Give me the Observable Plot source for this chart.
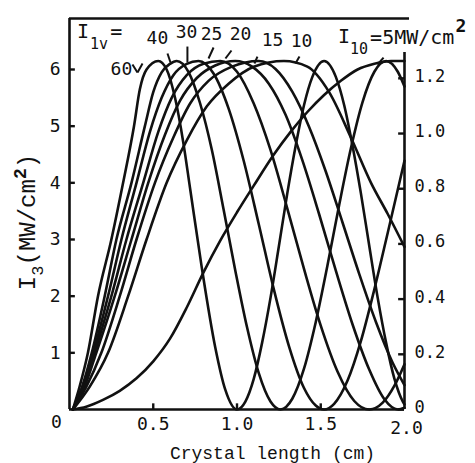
<!DOCTYPE html>
<html>
<head>
<meta charset="utf-8">
<script src="https://cdn.jsdelivr.net/npm/d3@7"></script>
<script src="https://cdn.jsdelivr.net/npm/@observablehq/plot@0.6"></script>
<style>
  html, body { margin: 0; padding: 0; background: #fff; }
  svg { display: block; }
</style>
</head>
<body>
<div id="chart"></div>
<script>
// ---- Data: crystal length (cm) and I3 (MW/cm^2) per pump intensity I1v ----
const seriesNames = ["60", "40", "30", "25", "20", "15", "10", "5"];

const len60 = [0.02,0.06,0.11,0.17,0.25,0.32,0.385,0.42,0.46,0.53,0.58,0.63,0.68,0.72,0.79,0.87,0.93,1.0,1.05,1.10,1.15,1.20,1.25,1.30,1.35,1.40,1.45,1.52,1.59,1.64,1.69,1.74,1.79,1.84,1.89,1.94,1.99,2.0];
const i60   = [0,0.4,1.0,2.0,3.0,4.0,5.0,5.65,6.0,6.15,6.0,5.5,4.7,3.9,2.5,1.1,0.35,0,0.14,0.54,1.18,1.97,2.88,3.81,4.65,5.37,5.87,6.15,5.87,5.37,4.65,3.81,2.88,1.97,1.18,0.54,0.14,0.09];

const len40 = [0.02,0.075,0.133,0.21,0.28,0.37,0.45,0.50,0.55,0.60,0.64,0.71,0.78,0.85,0.92,0.99,1.06,1.13,1.20,1.26,1.33,1.40,1.47,1.54,1.61,1.68,1.75,1.82,1.89,1.96,2.0];
const i40   = [0,0.4,1.0,2.0,3.0,4.0,5.0,5.6,5.95,6.1,6.15,5.96,5.4,4.58,3.53,2.45,1.45,0.64,0.14,0,0.19,0.72,1.54,2.54,3.61,4.61,5.43,5.96,6.15,5.96,5.7];

const len30 = [0.02,0.08,0.142,0.23,0.31,0.40,0.48,0.55,0.62,0.70,0.77,0.86,0.95,1.04,1.13,1.22,1.31,1.40,1.47,1.52,1.58,1.66,1.74,1.82,1.90,2.0];
const i30   = [0,0.4,1.0,2.0,3.0,4.0,4.9,5.5,5.9,6.1,6.15,5.93,5.31,4.39,3.27,2.12,1.12,0.38,0.07,0,0.1,0.51,1.21,2.12,3.12,4.39];

const len25 = [0.02,0.085,0.15,0.25,0.34,0.44,0.53,0.61,0.70,0.80,0.90,1.0,1.10,1.20,1.30,1.40,1.50,1.60,1.70,1.79,1.87,1.94,2.0];
const i25   = [0,0.4,1.0,2.0,3.0,4.0,4.9,5.5,5.9,6.1,6.15,5.96,5.4,4.58,3.55,2.48,1.48,0.67,0.15,0,0.12,0.42,0.8];

const len20 = [0.02,0.09,0.16,0.27,0.37,0.47,0.57,0.66,0.76,0.87,0.99,1.09,1.19,1.29,1.39,1.49,1.59,1.69,1.79,1.88,1.96,2.0];
const i20   = [0,0.4,1.0,2.0,3.0,4.0,4.85,5.45,5.85,6.07,6.15,6.05,5.75,5.2,4.4,3.45,2.45,1.5,0.7,0.18,0,0.03];

const len15 = [0.02,0.10,0.19,0.30,0.40,0.51,0.62,0.72,0.83,0.97,1.13,1.23,1.33,1.43,1.53,1.63,1.73,1.83,1.93,2.0];
const i15   = [0,0.4,1.0,2.0,3.0,4.0,4.8,5.4,5.8,6.05,6.15,6.01,5.61,4.99,4.2,3.3,2.39,1.54,0.82,0.43];

const len10 = [0.02,0.12,0.23,0.35,0.46,0.58,0.70,0.82,0.95,1.10,1.28,1.42,1.55,1.68,1.80,1.90,2.0];
const i10   = [0,0.4,1.0,2.0,3.0,4.0,4.75,5.35,5.75,6.05,6.15,6.05,5.6,4.8,4.0,3.45,2.87];

const len5  = [0.02,0.1,0.2,0.3,0.4,0.5,0.6,0.7,0.8,0.9,1.0,1.1,1.22,1.32,1.42,1.52,1.62,1.72,1.82,1.92,2.0];
const i5    = [0,0.05,0.17,0.33,0.55,0.85,1.25,1.8,2.42,2.98,3.48,3.95,4.5,4.9,5.25,5.55,5.8,6.0,6.1,6.15,6.15];

// ---- Axes ----
const leftTicks = [1, 2, 3, 4, 5, 6];
const xTicks = [0.5, 1.0, 1.5];
const xTickLabels = ["0.5", "1.0", "1.5"];
const xEndTick = 2.0;
const xEndLabel = "2.0";
const rightTicks = [0, 0.2, 0.4, 0.6, 0.8, 1.0, 1.2];
const rightTickLabels = ["0", "0.2", "0.4", "0.6", "0.8", "1.0", "1.2"];
const rightUnit = 4.87; // MW/cm^2 per unit of the right-hand axis

// ---- Annotations (data coordinates) ----
const curveLabels = [
  {t: "60", x: 0.310, y: 6.01},
  {t: "40", x: 0.525, y: 6.555},
  {t: "30", x: 0.699, y: 6.661},
  {t: "25", x: 0.848, y: 6.626},
  {t: "20", x: 1.021, y: 6.626},
  {t: "15", x: 1.212, y: 6.511},
  {t: "10", x: 1.385, y: 6.503}
];
const labelTicks = [
  {x1: 0.376, y1: 6.088, x2: 0.406, y2: 5.947},
  {x1: 0.406, y1: 5.947, x2: 0.436, y2: 6.106},
  {x1: 0.585, y1: 6.282, x2: 0.603, y2: 6.123},
  {x1: 0.704, y1: 6.405, x2: 0.704, y2: 6.123},
  {x1: 0.860, y1: 6.388, x2: 0.830, y2: 6.194},
  {x1: 0.967, y1: 6.335, x2: 0.931, y2: 6.194},
  {x1: 1.122, y1: 6.229, x2: 1.104, y2: 6.106},
  {x1: 1.373, y1: 6.229, x2: 1.349, y2: 6.106},
  {x1: 1.875, y1: 6.211, x2: 1.839, y2: 6.088}
];

const lens = [len60, len40, len30, len25, len20, len15, len10, len5];
const ints = [i60, i40, i30, i25, i20, i15, i10, i5];
const rows = seriesNames.flatMap((s, k) => lens[k].map((x, j) => ({s, x, v: ints[k][j]})));
const xTickRows = xTicks.map((x, i) => ({x, t: xTickLabels[i]}));
const rightRows = rightTicks.map((r, i) => ({v: r * rightUnit, t: rightTickLabels[i]}));

const numFont = "DejaVu Sans Mono";
const wordFont = "Liberation Mono";
const ink = "#111";

const chart = Plot.plot({
  width: 475,
  height: 463,
  marginLeft: 69,
  marginRight: 71,
  marginTop: 18,
  marginBottom: 54,
  x: {domain: [0, 2], axis: null},
  y: {domain: [0, 6.9], axis: null},
  marks: [
    // frame
    Plot.ruleX([0], {y1: 0, y2: 6.9, stroke: ink, strokeWidth: 2.6}),
    Plot.ruleY([0], {x1: 0, x2: 2, stroke: ink, strokeWidth: 2.6}),
    Plot.ruleY([6.9], {x1: 0, x2: 2.03, stroke: ink, strokeWidth: 2.6}),
    Plot.ruleX([2], {y1: 0, y2: 6.3, stroke: ink, strokeWidth: 2.6}),
    // inward ticks
    Plot.ruleY(leftTicks, {x1: 0, x2: 0.035, stroke: ink, strokeWidth: 2.4}),
    Plot.ruleY(rightRows, {y: "v", x1: 1.965, x2: 2, stroke: ink, strokeWidth: 2.4}),
    Plot.ruleX(xTicks, {y1: 0, y2: 0.1, stroke: ink, strokeWidth: 2.4}),
    // tick labels
    Plot.text(leftTicks, {x: 0, y: d => d, text: d => String(d), dx: -9, textAnchor: "end",
      fontSize: 18, fontFamily: numFont, fill: ink}),
    Plot.text(rightRows, {x: 2, y: "v", text: "t", dx: 10, dy: -2, textAnchor: "start",
      fontSize: 17, fontFamily: numFont, fill: ink}),
    Plot.text(xTickRows, {x: "x", y: 0, text: "t", dy: 15,
      fontSize: 18, fontFamily: numFont, fill: ink}),
    Plot.text([{x: xEndTick, t: xEndLabel}], {x: "x", y: 0, text: "t", dx: 2, dy: 19,
      fontSize: 18, fontFamily: numFont, fill: ink}),
    Plot.text([{x: 0, t: "0"}], {x: "x", y: 0, text: "t", dx: -13, dy: 13,
      fontSize: 18, fontFamily: numFont, fill: ink}),
    Plot.text([{x: 1.212, y: 0, t: "Crystal length (cm)"}], {x: "x", y: "y", text: "t", dy: 44,
      fontSize: 18, fontFamily: wordFont, fill: ink}),
    // curves
    Plot.line(rows, {x: "x", y: "v", z: "s", curve: "monotone-x", stroke: ink, strokeWidth: 2.6,
      strokeLinejoin: "round", strokeLinecap: "round"}),
    // curve labels
    Plot.text(curveLabels, {x: "x", y: "y", text: "t", fontSize: 18, fontFamily: numFont, fill: ink}),
    Plot.link(labelTicks, {x1: "x1", y1: "y1", x2: "x2", y2: "y2", stroke: ink, strokeWidth: 2})
  ]
});

// composite labels with sub/superscripts, positioned through the plot's scales
const sx = chart.scale("x"), sy = chart.scale("y");
const svg = d3.select(chart);
function addLabel(x, y, parts, font, transform) {
  const t = svg.append("text").attr("font-family", font).attr("fill", ink);
  if (transform) t.attr("transform", transform).attr("text-anchor", "middle");
  else t.attr("x", x).attr("y", y).attr("text-anchor", "start");
  parts.forEach(p => t.append("tspan")
    .attr("font-size", p.size).attr("dy", p.dy || 0).attr("dx", p.dx || 0)
    .attr("font-weight", p.weight || "normal").text(p.text));
}
addLabel(sx.apply(0.048), sy.apply(6.547), [
  {text: "I", size: 20},
  {text: "1v", size: 15, dy: 11, dx: 1},
  {text: "=", size: 20, dy: -11, dx: 2}
], numFont);
addLabel(sx.apply(1.606), sy.apply(6.459), [
  {text: "I", size: 20},
  {text: "10", size: 15, dy: 11},
  {text: "=5MW/cm", size: 20, dy: -10, dx: 2},
  {text: "2", size: 18, dy: -12, dx: 1, weight: "bold"}
], numFont);
addLabel(0, 0, [
  {text: "I", size: 24},
  {text: "3", size: 17, dy: 8},
  {text: "(MW/cm", size: 24, dy: -8},
  {text: "2", size: 18, dy: -9, weight: "bold"},
  {text: ")", size: 24, dy: 9}
], wordFont, `translate(35,${sy.apply(3.3)}) rotate(-90)`);

document.getElementById("chart").appendChild(chart);
</script>
</body>
</html>
